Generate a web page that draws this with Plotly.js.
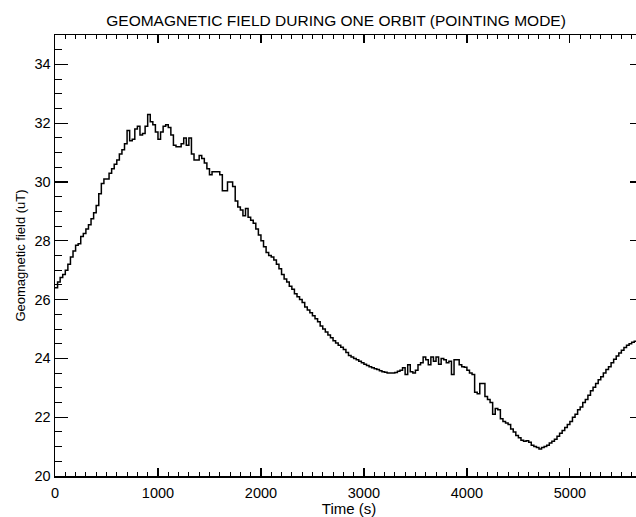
<!DOCTYPE html>
<html>
<head>
<meta charset="utf-8">
<script src="https://cdn.plot.ly/plotly-3.0.1.min.js"></script>
<style>
html, body { margin: 0; padding: 0; overflow: hidden; background: #fff; }
#chart { width: 650px; height: 517px; }
</style>
</head>
<body>
<div id="chart"></div>
<script>
// Time (s)
const timeSec = [
  0, 25, 50, 75, 100, 125, 150, 175, 200, 225,
  250, 275, 300, 325, 350, 375, 400, 425, 450, 475,
  500, 525, 550, 575, 600, 625, 650, 675, 700, 725,
  750, 775, 800, 825, 850, 875, 900, 925, 950, 975,
  1000, 1025, 1050, 1075, 1100, 1125, 1150, 1175, 1200, 1225,
  1250, 1275, 1300, 1325, 1350, 1375, 1400, 1425, 1450, 1475,
  1500, 1525, 1550, 1575, 1600, 1625, 1650, 1675, 1700, 1725,
  1750, 1775, 1800, 1825, 1850, 1875, 1900, 1925, 1950, 1975,
  2000, 2025, 2050, 2075, 2100, 2125, 2150, 2175, 2200, 2225,
  2250, 2275, 2300, 2325, 2350, 2375, 2400, 2425, 2450, 2475,
  2500, 2525, 2550, 2575, 2600, 2625, 2650, 2675, 2700, 2725,
  2750, 2775, 2800, 2825, 2850, 2875, 2900, 2925, 2950, 2975,
  3000, 3025, 3050, 3075, 3100, 3125, 3150, 3175, 3200, 3225,
  3250, 3275, 3300, 3325, 3350, 3375, 3400, 3425, 3450, 3475,
  3500, 3525, 3550, 3575, 3600, 3625, 3650, 3675, 3700, 3725,
  3750, 3775, 3800, 3825, 3850, 3875, 3900, 3925, 3950, 3975,
  4000, 4025, 4050, 4075, 4100, 4125, 4150, 4175, 4200, 4225,
  4250, 4275, 4300, 4325, 4350, 4375, 4400, 4425, 4450, 4475,
  4500, 4525, 4550, 4575, 4600, 4625, 4650, 4675, 4700, 4725,
  4750, 4775, 4800, 4825, 4850, 4875, 4900, 4925, 4950, 4975,
  5000, 5025, 5050, 5075, 5100, 5125, 5150, 5175, 5200, 5225,
  5250, 5275, 5300, 5325, 5350, 5375, 5400, 5425, 5450, 5475,
  5500, 5525, 5550, 5575, 5600, 5625, 5650, 5675, 5700
];
// Geomagnetic field (uT)
const fieldUT = [
  26.4, 26.6, 26.75, 26.85, 27.0, 27.2, 27.45, 27.65, 27.85, 27.9,
  28.15, 28.25, 28.4, 28.55, 28.75, 28.95, 29.2, 29.6, 29.95, 30.1,
  30.1, 30.3, 30.45, 30.6, 30.75, 30.95, 31.1, 31.3, 31.75, 31.4,
  31.45, 31.8, 31.9, 31.6, 31.65, 31.9, 32.3, 32.05, 31.95, 31.7,
  31.45, 31.7, 31.9, 31.95, 31.85, 31.6, 31.25, 31.2, 31.2, 31.3,
  31.5, 31.25, 31.5, 30.95, 30.75, 30.75, 30.9, 30.8, 30.65, 30.45,
  30.25, 30.35, 30.35, 30.35, 30.25, 29.7, 29.7, 30.0, 30.0, 29.85,
  29.35, 29.15, 29.05, 28.85, 29.1, 28.8, 28.7, 28.6, 28.4, 28.2,
  28.0, 27.8, 27.6, 27.5, 27.45, 27.35, 27.2, 27.05, 26.85, 26.7,
  26.6, 26.45, 26.35, 26.2, 26.1, 26.0, 25.9, 25.75, 25.65, 25.55,
  25.45, 25.35, 25.25, 25.1, 25.0, 24.9, 24.8, 24.7, 24.6, 24.52,
  24.45, 24.38, 24.3, 24.2, 24.1, 24.05, 24.0, 23.95, 23.9, 23.85,
  23.8, 23.76, 23.72, 23.68, 23.65, 23.62, 23.58, 23.55, 23.53, 23.5,
  23.5, 23.5, 23.52, 23.56, 23.6, 23.68, 23.45, 23.78, 23.55, 23.5,
  23.6, 23.78, 23.85, 24.05, 23.95, 23.78, 24.05, 23.9, 24.05, 23.8,
  24.0, 23.95, 23.85, 23.9, 23.45, 23.95, 23.95, 23.78, 23.72, 23.7,
  23.6, 23.5, 23.45, 22.85, 22.8, 23.15, 23.15, 22.7, 22.6, 22.5,
  22.1, 22.3, 22.25, 21.95, 21.85, 21.8, 21.75, 21.6, 21.5, 21.38,
  21.3, 21.22, 21.18, 21.2, 21.15, 21.05, 21.0, 20.97, 20.92, 20.97,
  21.0, 21.05, 21.12, 21.18, 21.25, 21.35, 21.45, 21.55, 21.65, 21.75,
  21.85, 22.0, 22.1, 22.25, 22.35, 22.5, 22.6, 22.75, 22.9, 23.02,
  23.15, 23.27, 23.38, 23.5, 23.62, 23.72, 23.85, 23.97, 24.08, 24.18,
  24.28, 24.37, 24.45, 24.5, 24.55, 24.58, 24.6, 24.62, 24.65
];
const yTickVals = [20, 22, 24, 26, 28, 30, 32, 34];
const xTickVals = [0, 1000, 2000, 3000, 4000, 5000];

const font = 'Liberation Sans, Arial, sans-serif';

const trace = {
  x: timeSec,
  y: fieldUT,
  type: 'scatter',
  mode: 'lines',
  line: { color: '#000', width: 1.5, shape: 'hv' },
  hoverinfo: 'skip'
};

const layout = {
  width: 650,
  height: 517,
  margin: { l: 55, r: 7, t: 35, b: 41 },
  paper_bgcolor: '#fff',
  plot_bgcolor: '#fff',
  showlegend: false,
  font: { family: font, color: '#000', size: 14 },
  title: {
    text: 'GEOMAGNETIC FIELD DURING ONE ORBIT (POINTING MODE)',
    font: { family: font, size: 15.5, color: '#000' },
    x: 0.517, xanchor: 'center',
    y: 0.961, yanchor: 'middle'
  },
  xaxis: {
    range: [0, 5710],
    tickvals: xTickVals,
    ticktext: xTickVals.map(String),
    ticks: 'inside', ticklen: 8, tickwidth: 1.2, tickcolor: '#000',
    minor: { dtick: 100, ticks: 'inside', ticklen: 4, tickwidth: 1, tickcolor: '#000', showgrid: false },
    showline: true, linecolor: '#000', linewidth: 1.5, mirror: 'ticks',
    showgrid: false, zeroline: false,
    ticklabelstandoff: 3,
    tickfont: { family: font, size: 14.5, color: '#000' },
    title: { text: 'Time (s)', font: { family: font, size: 15, color: '#000' }, standoff: 2 }
  },
  yaxis: {
    range: [20, 35],
    tickvals: yTickVals,
    ticktext: yTickVals.map(String),
    ticks: 'inside', ticklen: 13, tickwidth: 1.2, tickcolor: '#000',
    minor: { dtick: 0.5, ticks: 'inside', ticklen: 7, tickwidth: 1, tickcolor: '#000', showgrid: false },
    showline: true, linecolor: '#000', linewidth: 1.5, mirror: 'ticks',
    showgrid: false, zeroline: false,
    tickfont: { family: font, size: 14.5, color: '#000' },
    title: { text: 'Geomagnetic field (uT)', font: { family: font, size: 13, color: '#000' }, standoff: 6 }
  }
};

Plotly.newPlot('chart', [trace], layout, { displayModeBar: false, staticPlot: true });
</script>
</body>
</html>
